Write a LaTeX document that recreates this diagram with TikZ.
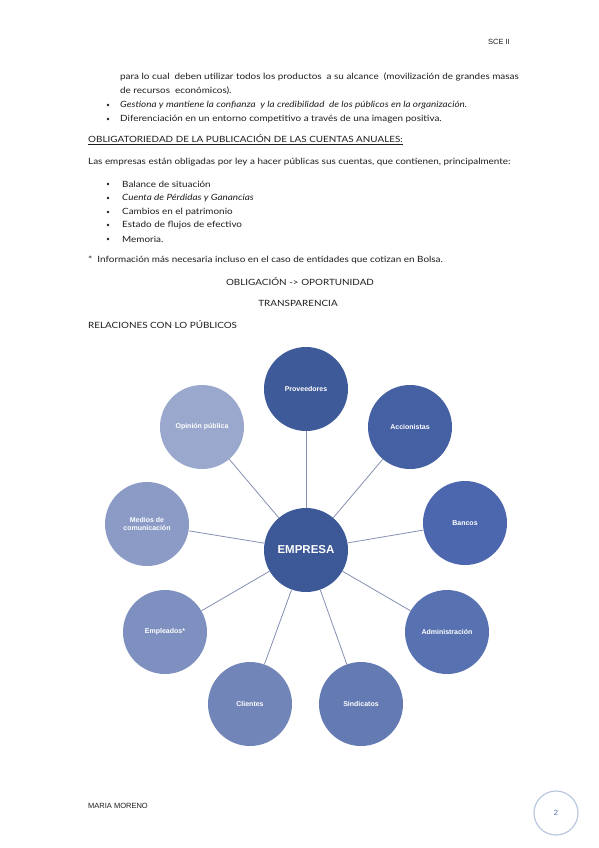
\documentclass[tikz,border=0pt]{standalone}
\usepackage{fontspec}
\setmainfont{Lato}[FakeStretch=1.15]
\newfontfamily\arialf{Liberation Sans}
\definecolor{txt}{HTML}{1E1E1E}
\definecolor{cprov}{HTML}{3F5A98}
\definecolor{cemp}{HTML}{3C5897}
\definecolor{cacc}{HTML}{4660A4}
\definecolor{cban}{HTML}{4D67AE}
\definecolor{cadm}{HTML}{5771B1}
\definecolor{csin}{HTML}{637AB3}
\definecolor{ccli}{HTML}{7185B9}
\definecolor{cemple}{HTML}{7E90BF}
\definecolor{cmed}{HTML}{8B9BC6}
\definecolor{copi}{HTML}{9BA8CD}
\definecolor{cline}{HTML}{8590B2}
\definecolor{cpgring}{HTML}{B9C7DF}
\definecolor{cpgnum}{HTML}{4F6BAF}
\begin{document}
\begin{tikzpicture}[x=1pt,y=-1pt,
  body/.style={anchor=west,inner sep=0pt,text=txt,font=\fontsize{8.6}{10}\selectfont},
  bodyc/.style={anchor=center,inner sep=0pt,text=txt,font=\fontsize{8.6}{10}\selectfont},
  pub/.style={circle,minimum size=84pt,inner sep=0pt,align=center,text=white,
    font=\arialf\bfseries\fontsize{7}{8}\selectfont},
  conn/.style={draw=cline,line width=0.8pt},
  bul/.style={circle,fill=txt,inner sep=0pt,minimum size=2.6pt}]
\useasboundingbox (0,0) rectangle (599,848);
\fill[white] (0,0) rectangle (599,848);
% header
\node[anchor=east,inner sep=0pt,font=\arialf\fontsize{7.5}{9}\selectfont,text=txt] (hdr) at (510,42) {SCE II};
% text block
\node[body] (l1) at (120,77) {para lo cual\ \ deben utilizar todos los productos\ \ a su alcance\ \ (movilización de grandes masas};
\node[body] (l2) at (120,91) {de recursos\ \ económicos).};
\node[bul] (b1) at (108,105) {};
\node[body] (l3) at (120,105) {\itshape Gestiona y mantiene la confianza\ \ y la credibilidad\ \ de los públicos en la organización.};
\node[bul] (b2) at (108,119) {};
\node[body] (l4) at (120,119) {Diferenciación en un entorno competitivo a través de una imagen positiva.};
\node[body] (h1) at (88,140) {\underline{OBLIGATORIEDAD DE LA PUBLICACIÓN DE LAS CUENTAS ANUALES:}};
\node[body] (l5) at (88,162) {Las empresas están obligadas por ley a hacer públicas sus cuentas, que contienen, principalmente:};
\node[bul] (b3) at (108,184) {};
\node[body] (l6) at (122,184) {Balance de situación};
\node[bul] (b4) at (108,198) {};
\node[body] (l7) at (122,198) {\itshape Cuenta de Pérdidas y Ganancias};
\node[bul] (b5) at (108,212) {};
\node[body] (l8) at (122,212) {Cambios en el patrimonio};
\node[bul] (b6) at (108,225) {};
\node[body] (l9) at (122,225) {Estado de flujos de efectivo};
\node[bul] (b7) at (108,239) {};
\node[body] (l10) at (122,239) {Memoria.};
\node[body] (l11) at (88,260) {*\ \ Información más necesaria incluso en el caso de entidades que cotizan en Bolsa.};
\node[bodyc] (l12) at (300,282) {OBLIGACIÓN -{}> OPORTUNIDAD};
\node[bodyc] (l13) at (298,303) {TRANSPARENCIA};
\node[body] (l14) at (88,325) {RELACIONES CON LO PÚBLICOS};
% diagram
\node[pub,fill=cemp,font=\arialf\bfseries\fontsize{11.5}{13}\selectfont] (emp) at (306,550) {EMPRESA};
\node[pub,fill=cprov] (prov) at (306,389) {Proveedores};
\node[pub,fill=cacc] (acc) at (410,427) {Accionistas};
\node[pub,fill=cban] (ban) at (465,523) {Bancos};
\node[pub,fill=cadm] (adm) at (447,632) {Administración};
\node[pub,fill=csin] (sin) at (361,704) {Sindicatos};
\node[pub,fill=ccli] (cli) at (250,704) {Clientes};
\node[pub,fill=cemple] (empl) at (165,632) {Empleados*};
\node[pub,fill=cmed] (med) at (147,524) {Medios de\\comunicación};
\node[pub,fill=copi] (opi) at (202,427) {Opinión pública};
\foreach \t in {prov,acc,ban,adm,sin,cli,empl,med,opi}
  \draw[conn] (emp) -- (\t);
% footer
\node[anchor=west,inner sep=0pt,font=\arialf\fontsize{7.5}{9}\selectfont,text=txt] (ftr) at (88,806) {MARIA MORENO};
\node[circle,draw=cpgring,line width=1.2pt,minimum size=44pt,inner sep=0pt,text=cpgnum,font=\arialf\fontsize{7.5}{9}\selectfont] (pg) at (556,813) {2};
\end{tikzpicture}
\end{document}
